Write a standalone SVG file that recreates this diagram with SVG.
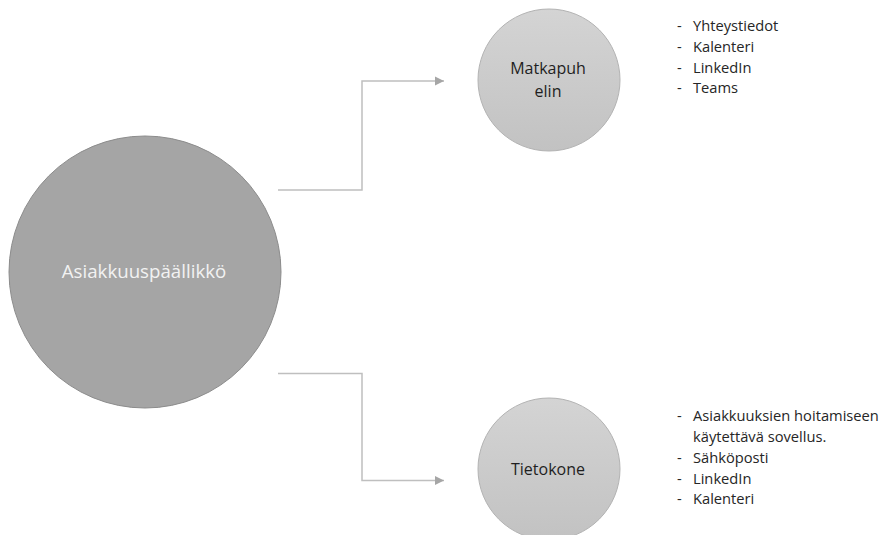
<svg xmlns="http://www.w3.org/2000/svg" width="882" height="535" viewBox="0 0 882 535">
<defs>
<style>
.lbl{font-family:"Open Sans","Liberation Sans",sans-serif;text-anchor:middle}
.big{fill:#a5a5a5;stroke:#8c8c8c;stroke-width:1}
.small{fill:url(#g);stroke:#b3b3b3;stroke-width:1}
.conn{fill:none;stroke:#bfbfbf;stroke-width:1.5}
.list{font-family:"Open Sans","Liberation Sans",sans-serif;font-size:14.7px;fill:#262626}
</style>
<linearGradient id="g" x1="0" y1="0" x2="0" y2="1">
<stop offset="0" stop-color="#d4d4d4"/>
<stop offset="1" stop-color="#c2c2c2"/>
</linearGradient>
<marker id="arr" markerWidth="9" markerHeight="10" refX="9" refY="5" orient="auto" markerUnits="userSpaceOnUse">
<path d="M0,0.5 L9,5 L0,9.5 Z" fill="#a6a6a6"/>
</marker>
</defs>
<rect width="882" height="535" fill="#ffffff"/>
<g id="connectors">
<path class="conn" d="M278,190 H362 V81 H444" marker-end="url(#arr)"/>
<path class="conn" d="M278,373.5 H362 V480.5 H444" marker-end="url(#arr)"/>
</g>
<g id="node-asiakkuuspaallikko">
<circle class="big" cx="145" cy="272" r="136"/>
<text class="lbl" x="144" y="278" font-size="18.7" fill="#f2f2f2">Asiakkuuspäällikkö</text>
</g>
<g id="node-matkapuhelin">
<circle class="small" cx="549" cy="80" r="71"/>
<text class="lbl" x="548" y="74" font-size="16" fill="#1f1f1f">Matkapuh</text>
<text class="lbl" x="548" y="97" font-size="16" fill="#1f1f1f">elin</text>
</g>
<g id="node-tietokone">
<circle class="small" cx="549" cy="469" r="71"/>
<text class="lbl" x="548" y="475" font-size="16" fill="#1f1f1f">Tietokone</text>
</g>
<g id="list-matkapuhelin" class="list">
<text x="677" y="31">-</text><text x="693" y="31">Yhteystiedot</text>
<text x="677" y="52">-</text><text x="693" y="52">Kalenteri</text>
<text x="677" y="72.5">-</text><text x="693" y="72.5">LinkedIn</text>
<text x="677" y="93">-</text><text x="693" y="93">Teams</text>
</g>
<g id="list-tietokone" class="list">
<text x="677" y="421">-</text><text x="693" y="421">Asiakkuuksien hoitamiseen</text>
<text x="693" y="442">käytettävä sovellus.</text>
<text x="677" y="463">-</text><text x="693" y="463">Sähköposti</text>
<text x="677" y="483.5">-</text><text x="693" y="483.5">LinkedIn</text>
<text x="677" y="504">-</text><text x="693" y="504">Kalenteri</text>
</g>
</svg>
